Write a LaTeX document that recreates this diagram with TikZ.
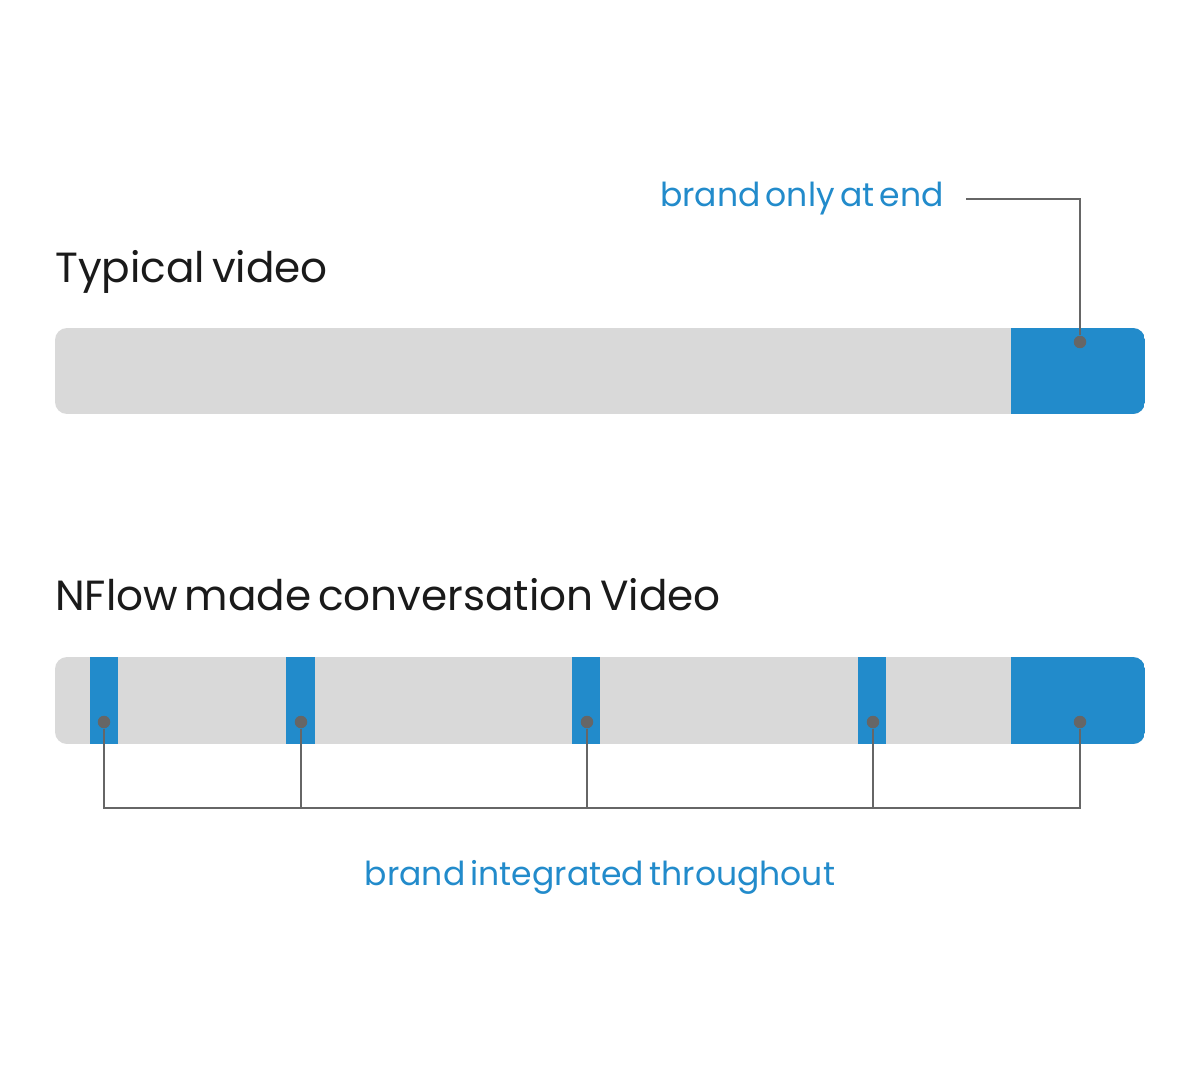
\documentclass[tikz,border=0pt]{standalone}
\usepackage{fontspec}
\setmainfont[WordSpace=0.6]{Poppins}
\usetikzlibrary{positioning,calc}
\definecolor{brandblue}{RGB}{34,139,203}
\definecolor{barfill}{RGB}{217,217,217}
\definecolor{leader}{RGB}{102,102,102}
\definecolor{ink}{RGB}{26,26,26}

\begin{document}
\begin{tikzpicture}[
    x=0.02cm,y=-0.02cm,
    title/.style={font=\fontsize{24}{28}\selectfont,text=ink,inner sep=0pt,anchor=base west},
    note/.style={font=\fontsize{18.8}{22}\selectfont,text=brandblue,inner sep=0pt},
    dot/.style={circle,fill=leader,inner sep=0pt,minimum size=0.25cm},
    leadline/.style={draw=leader,line width=1.2pt}
]
\useasboundingbox (0,0) rectangle (1200,1091);

% typical video
\node[title] (typical) at (55,282) {Typical video};
\begin{scope}
    \clip[rounded corners=0.24cm] (55,328) rectangle (1145,414);
    \fill[barfill] (55,328) rectangle (1145,414);
    \fill[brandblue] (1011,328) rectangle (1145,414);
\end{scope}
\node[dot] (endA) at (1080,342) {};
\node[note,anchor=base east] (onlyend) at (944,207) {brand only at end};
\draw[leadline] ([xshift=0.44cm]onlyend.east) -| (endA);

% nflow video
\node[title] (nflow) at (55,610) {NFlow made conversation Video};
\begin{scope}
    \clip[rounded corners=0.24cm] (55,657) rectangle (1145,744);
    \fill[barfill] (55,657) rectangle (1145,744);
    \foreach \a/\b in {90/118,286/315,572/600,858/886,1011/1145}
        \fill[brandblue] (\a,657) rectangle (\b,744);
\end{scope}
\node[dot] (s1) at (104,722) {};
\node[dot] (s2) at (301,722) {};
\node[dot] (s3) at (587,722) {};
\node[dot] (s4) at (873,722) {};
\node[dot] (endB) at (1080,722) {};
\coordinate (rail) at (0,808);
\draw[leadline] (s1) -- (s1 |- rail) -- (endB |- rail) -- (endB);
\foreach \s in {s2,s3,s4}
    \draw[leadline] (\s) -- (\s |- rail);
\node[note,anchor=base] (throughout) at (600,885) {brand integrated throughout};
\end{tikzpicture}
\end{document}
